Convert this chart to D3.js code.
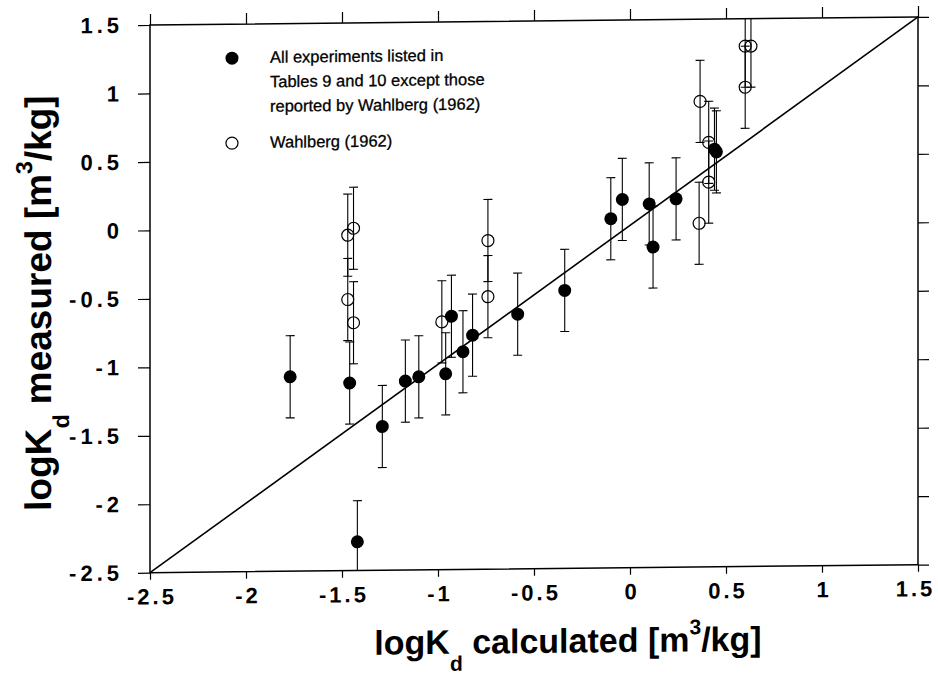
<!DOCTYPE html>
<html>
<head>
<meta charset="utf-8">
<script src="https://cdn.jsdelivr.net/npm/d3@7"></script>
<style>
  body { margin: 0; background: #fff; }
  text { font-family: "Liberation Sans", Arial, sans-serif; fill: #000; }
</style>
</head>
<body>
<svg id="chart"></svg>
<script>
// axis ticks
const xTicks = [-2.5, -2, -1.5, -1, -0.5, 0, 0.5, 1, 1.5];
const yTicks = [-2.5, -2, -1.5, -1, -0.5, 0, 0.5, 1, 1.5];

// all experiments (filled)
const filledCalc = [-1.77, -1.46, -1.42, -1.29, -1.17, -1.10, -0.96, -0.93, -0.87, -0.82, -0.585, -0.34, -0.10, -0.04, 0.10, 0.12, 0.24, 0.44, 0.45];
const filledMeas = [-1.08, -1.13, -2.29, -1.45, -1.12, -1.09, -1.07, -0.65, -0.91, -0.79, -0.64, -0.47, 0.05, 0.19, 0.155, -0.16, 0.19, 0.55, 0.53];
const filledErr  = [0.3, 0.3, 0.3, 0.3, 0.3, 0.3, 0.3, 0.3, 0.3, 0.3, 0.3, 0.3, 0.3, 0.3, 0.3, 0.3, 0.3, 0.3, 0.3];

// Wahlberg (1962) (open)
const openCalc = [-1.47, -1.44, -1.47, -1.44, -0.98, -0.74, -0.74, 0.36, 0.365, 0.41, 0.41, 0.60, 0.60, 0.63];
const openMeas = [-0.05, 0.00, -0.52, -0.69, -0.69, -0.10, -0.51, 0.01, 0.90, 0.60, 0.31, 1.00, 1.30, 1.30];
const openErr  = [0.3, 0.3, 0.3, 0.3, 0.3, 0.3, 0.3, 0.3, 0.3, 0.3, 0.3, 0.3, 0.3, 0.3];

// 1:1 line
const lineEnds = [-2.5, 1.5];

const legendLines = ["All experiments listed in", "Tables 9 and 10 except those", "reported by Wahlberg (1962)"];
const legendOpen = "Wahlberg (1962)";

const width = 938, height = 677;
const plot = { left: 150, right: 918, top: 25, bottom: 572.7 };

const svg = d3.select('#chart')
    .attr('width', width)
    .attr('height', height);

// the scanned figure is slightly sheared
const g = svg.append('g')
    .attr('transform', `translate(${plot.left},0) skewY(-0.6) translate(${-plot.left},0)`);

const x = d3.scaleLinear().domain([-2.5, 1.5]).range([plot.left, plot.right]);
const y = d3.scaleLinear().domain([-2.5, 1.5]).range([plot.bottom, plot.top]);

g.append('clipPath').attr('id', 'clip')
    .append('rect')
    .attr('x', plot.left).attr('y', plot.top)
    .attr('width', plot.right - plot.left).attr('height', plot.bottom - plot.top);

const fmt = d => String(d);

// axes
const xAxis = g.append('g')
    .attr('transform', `translate(0,${plot.bottom})`)
    .call(d3.axisBottom(x).tickValues(xTicks).tickSize(7).tickPadding(9).tickFormat(fmt));
const xTop = g.append('g')
    .attr('transform', `translate(0,${plot.top})`)
    .call(d3.axisTop(x).tickValues(xTicks).tickSize(11).tickFormat(''));
const yAxis = g.append('g')
    .attr('transform', `translate(${plot.left},0)`)
    .call(d3.axisLeft(y).tickValues(yTicks).tickSize(12).tickPadding(16).tickFormat(fmt));
const yRight = g.append('g')
    .attr('transform', `translate(${plot.right},0)`)
    .call(d3.axisRight(y).tickValues(yTicks).tickSize(11).tickFormat(''));

[xAxis, xTop, yAxis, yRight].forEach(a => {
    a.select('.domain').remove();
    a.selectAll('line').attr('stroke', '#000').attr('stroke-width', 1.2);
    a.selectAll('text')
        .attr('font-family', '"Liberation Sans", Arial, sans-serif')
        .attr('font-size', 22)
        .attr('font-weight', 'bold')
        .attr('letter-spacing', 3)
        .attr('fill', '#000');
});
xAxis.selectAll('text').attr('dx', 1.5);
// keep the last label inside the page
xAxis.selectAll('text').filter(d => d === xTicks[xTicks.length - 1]).attr('dx', -3);
yAxis.selectAll('text').attr('letter-spacing', 4).attr('dx', 1);

// frame
g.append('rect')
    .attr('x', plot.left).attr('y', plot.top)
    .attr('width', plot.right - plot.left).attr('height', plot.bottom - plot.top)
    .attr('fill', 'none').attr('stroke', '#000').attr('stroke-width', 1.5);

// 1:1 line
g.append('line')
    .attr('x1', x(lineEnds[0])).attr('y1', y(lineEnds[0]))
    .attr('x2', x(lineEnds[1])).attr('y2', y(lineEnds[1]))
    .attr('stroke', '#000').attr('stroke-width', 1.6);

const filled = filledCalc.map((c, i) => ({ c: c, m: filledMeas[i], e: filledErr[i] }));
const open = openCalc.map((c, i) => ({ c: c, m: openMeas[i], e: openErr[i] }));

function errorBars(data) {
    const eb = g.append('g').attr('clip-path', 'url(#clip)')
        .attr('stroke', '#000').attr('stroke-width', 1.1);
    eb.selectAll('line.v').data(data).enter().append('line')
        .attr('x1', d => x(d.c)).attr('x2', d => x(d.c))
        .attr('y1', d => y(d.m - d.e)).attr('y2', d => y(d.m + d.e));
    eb.selectAll('line.t').data(data).enter().append('line')
        .attr('x1', d => x(d.c) - 4.5).attr('x2', d => x(d.c) + 4.5)
        .attr('y1', d => y(d.m + d.e)).attr('y2', d => y(d.m + d.e));
    eb.selectAll('line.b').data(data).enter().append('line')
        .attr('x1', d => x(d.c) - 4.5).attr('x2', d => x(d.c) + 4.5)
        .attr('y1', d => y(d.m - d.e)).attr('y2', d => y(d.m - d.e));
}
errorBars(open);
errorBars(filled);

g.append('g').selectAll('circle').data(open).enter().append('circle')
    .attr('cx', d => x(d.c)).attr('cy', d => y(d.m)).attr('r', 6)
    .attr('fill', 'none').attr('stroke', '#000').attr('stroke-width', 1.2);

g.append('g').selectAll('circle').data(filled).enter().append('circle')
    .attr('cx', d => x(d.c)).attr('cy', d => y(d.m)).attr('r', 6.5)
    .attr('fill', '#000');

// legend
const lg = g.append('g');
lg.append('circle').attr('cx', 232).attr('cy', 59).attr('r', 6.5).attr('fill', '#000');
lg.append('circle').attr('cx', 232).attr('cy', 144).attr('r', 6)
    .attr('fill', 'none').attr('stroke', '#000').attr('stroke-width', 1.2);
lg.selectAll('text.l').data(legendLines).enter().append('text')
    .attr('x', 270).attr('y', (d, i) => 64 + i * 24.5)
    .attr('font-size', 16.5)
    .attr('stroke', '#000').attr('stroke-width', 0.3)
    .text(d => d);
lg.append('text').attr('x', 270).attr('y', 149).attr('font-size', 16.5)
    .attr('stroke', '#000').attr('stroke-width', 0.3)
    .text(legendOpen);

// axis titles
const xt = g.append('text')
    .attr('x', 568).attr('y', 657)
    .attr('text-anchor', 'middle')
    .attr('font-size', 34).attr('font-weight', 'bold');
xt.append('tspan').text('logK');
xt.append('tspan').attr('font-size', 21).attr('dy', 17).text('d');
xt.append('tspan').attr('dy', -17).text(' calculated [m');
xt.append('tspan').attr('font-size', 21).attr('dy', -17).text('3');
xt.append('tspan').attr('dy', 17).text('/kg]');

const yt = g.append('text')
    .attr('transform', 'translate(51,302) rotate(-90)')
    .attr('text-anchor', 'middle')
    .attr('font-size', 37).attr('font-weight', 'bold');
yt.append('tspan').text('logK');
yt.append('tspan').attr('font-size', 23).attr('dy', 18).text('d');
yt.append('tspan').attr('dy', -18).text(' measured [m');
yt.append('tspan').attr('font-size', 23).attr('dy', -19).text('3');
yt.append('tspan').attr('dy', 19).text('/kg]');
</script>
</body>
</html>
